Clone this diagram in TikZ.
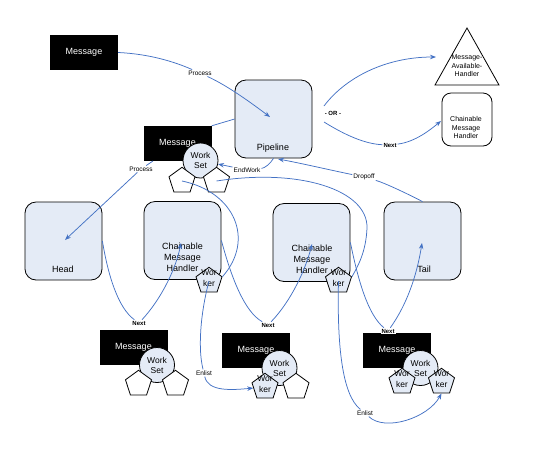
\documentclass[tikz,border=0pt]{standalone}
\usepackage{fontspec}
\setmainfont{Liberation Sans}
\usetikzlibrary{shapes.geometric,arrows.meta}
\definecolor{lnblue}{RGB}{68,114,196}
\definecolor{boxfill}{RGB}{228,235,246}
\begin{document}
\begin{tikzpicture}[x=1pt,y=-1pt,
  conn/.style={draw=lnblue,line width=0.75pt},
  arr/.style={conn,-{Stealth[length=6pt,width=4.5pt]}},
  msg/.style={fill=black,text=white,minimum width=68pt,minimum height=35pt,inner sep=0pt,font=\fontsize{9}{10}\selectfont},
  hbox/.style={draw=black,line width=0.8pt,rounded corners=11pt,fill=boxfill,minimum width=77pt,minimum height=78pt,inner sep=0pt},
  pent/.style={regular polygon,regular polygon sides=5,draw=black,line width=0.8pt,fill=white,minimum size=27.4pt,inner sep=0pt},
  wpent/.style={pent,fill=boxfill},
  wset/.style={circle,draw=black,line width=0.8pt,fill=boxfill,minimum size=35pt,inner sep=0pt,align=center,font=\fontsize{8.5}{10}\selectfont},
  wtxt/.style={inner sep=0pt,align=center,font=\fontsize{8.5}{11}\selectfont},
  btxt/.style={inner sep=0pt,align=center,font=\fontsize{9}{11}\selectfont},
  stxt/.style={inner sep=0pt,align=center,font=\fontsize{7}{8.5}\selectfont},
  lbl/.style={fill=white,inner sep=1pt,font=\fontsize{6.5}{7}\selectfont},
  blbl/.style={fill=white,inner sep=1pt,font=\bfseries\fontsize{6}{7}\selectfont}
]
\useasboundingbox (0,0) rectangle (541,451);

% ---- top row ----
\node[msg] (m1) at (84,52.5) {Message};
\node[hbox] (pipe) at (273.5,119) {};
\node[btxt] (pipet) at (273,148) {Pipeline};

\draw[black,line width=0.8pt,fill=white] (467,28) -- (499,85) -- (435,85) -- cycle;
\node[stxt] (mah) at (467,66) {Message-\\Available-\\Handler};
\node[draw=black,line width=0.8pt,rounded corners=9pt,fill=white,minimum width=50pt,minimum height=53pt,inner sep=0pt] (cmhs) at (467,119.5) {};
\node[stxt] (cmhst) at (466,127.5) {Chainable\\Message\\Handler};

\node[blbl] (or) at (333,113) {- OR -};

% message 2 with work set
\node[msg] (m2) at (177.5,143.5) {Message};
\node[wset] (ws1) at (200.5,160.5) {Work\\Set};
\node[pent] (p1a) at (182,181) {};
\node[pent] (p1b) at (216.5,181) {};

% ---- handler row ----
\node[hbox] (head) at (63.5,241) {};
\node[btxt] (headt) at (63,269) {Head};
\node[hbox] (cmh1) at (182.5,240.5) {};
\node[btxt] (cmh1t) at (182.5,257.5) {Chainable\\Message\\Handler};
\node[wpent] (w1) at (209,281) {};
\node[wtxt] (w1t) at (209,278) {Wor\\ker};
\node[hbox] (cmh2) at (311.5,242.5) {};
\node[btxt] (cmh2t) at (312,259.5) {Chainable\\Message\\Handler};
\node[wpent] (w2) at (338.5,281) {};
\node[wtxt] (w2t) at (338.5,278) {Wor\\ker};
\node[hbox] (tail) at (422.5,241) {};
\node[btxt] (tailt) at (424,269) {Tail};

% ---- bottom row ----
\node[msg] (m3) at (133.5,347.5) {Message};
\node[wset] (ws3) at (157,365) {Work\\Set};
\node[pent] (p3a) at (138.5,384) {};
\node[pent] (p3b) at (175.5,384) {};

\node[msg] (m4) at (256,350.5) {Message};
\node[wset] (ws4) at (279.5,368) {Work\\Set};
\node[wpent] (wk4a) at (265,387) {};
\node[wtxt] (wk4at) at (265,384) {Wor\\ker};
\node[pent] (p4b) at (296,387) {};

\node[msg] (m5) at (397,350.5) {Message};
\node[wset] (ws5) at (420.5,368) {Work\\Set};
\node[wpent] (wk5a) at (402,382) {};
\node[wtxt] (wk5at) at (402,379) {Wor\\ker};
\node[wpent] (wk5b) at (441.5,382) {};
\node[wtxt] (wk5bt) at (441.5,379) {Wor\\ker};

% ---- labels ----
\node[lbl] (proc1) at (200,73) {Process};
\node[lbl] (proc2) at (141,169) {Process};
\node[lbl] (endw) at (247,170) {EndWork};
\node[lbl] (drop) at (364,177) {Dropoff};
\node[blbl] (next0) at (390,145) {Next};
\node[blbl] (next1) at (139,323) {Next};
\node[blbl] (next2) at (268,325) {Next};
\node[blbl] (next3) at (388,331) {Next};
\node[lbl] (enl1) at (204,373) {Enlist};
\node[lbl] (enl2) at (365,413) {Enlist};

% ---- free ends ----
\coordinate (pipein) at (270,117);
\coordinate (headin) at (65,240);
\coordinate (cmh1in) at (181,243);
\coordinate (cmh2in) at (312,244);
\coordinate (tailin) at (422,243);
\coordinate (orup) at (324,106);
\coordinate (ordn) at (324,122);
\coordinate (mahin) at (436,57);
\coordinate (cmhsin) at (441,121);
\coordinate (pipebot) at (278,159);
\coordinate (m2out) at (153,161);
\coordinate (via2) at (367,228);

% ---- connectors ----
\draw[conn] (m1.east) .. controls (150,54) and (175,62) .. (proc1);
\draw[arr] (proc1) .. controls (228,86) and (250,102) .. (pipein);
\draw[conn] (m2.north east) -- (pipe.west);
\draw[conn] (m2out) -- (proc2);
\draw[arr] (proc2) -- (headin);
\draw[conn] (pipe.south) .. controls (270,164) and (265,168) .. (endw);
\draw[arr] (endw) -- (ws1);
\draw[conn] (tail.north) .. controls (410,195) and (385,183) .. (drop);
\draw[arr] (drop) .. controls (330,170) and (300,163) .. (pipebot);

\draw[arr] (orup) .. controls (345,78) and (385,57) .. (mahin);
\draw[conn] (ordn) .. controls (345,135) and (365,144) .. (next0);
\draw[arr] (next0) .. controls (415,142) and (430,130) .. (cmhsin);

\draw[conn] (p1a.center) .. controls (235,192) and (255,240) .. (w1.corner 5);
\draw[conn] (p1b.center) .. controls (300,168) and (368,190) .. (via2) .. controls (366,252) and (358,266) .. (w2.corner 5);

\draw[conn] (head.east) .. controls (108,275) and (118,308) .. (next1);
\draw[arr] (next1) .. controls (162,298) and (176,268) .. (cmh1in);
\draw[conn] (cmh1.east) .. controls (232,280) and (245,312) .. (next2);
\draw[arr] (next2) .. controls (292,300) and (306,268) .. (cmh2in);
\draw[conn] (cmh2.east) .. controls (358,280) and (368,315) .. (next3);
\draw[arr] (next3) .. controls (410,300) and (418,268) .. (tailin);

\draw[conn] (w1.center) .. controls (200,315) and (198,350) .. (enl1);
\draw[arr] (enl1) .. controls (208,392) and (232,390) .. (wk4a);
\draw[conn] (w2.center) .. controls (337,345) and (342,395) .. (enl2);
\draw[arr] (enl2) .. controls (385,432) and (428,418) .. (wk5b.south);
\end{tikzpicture}
\end{document}
